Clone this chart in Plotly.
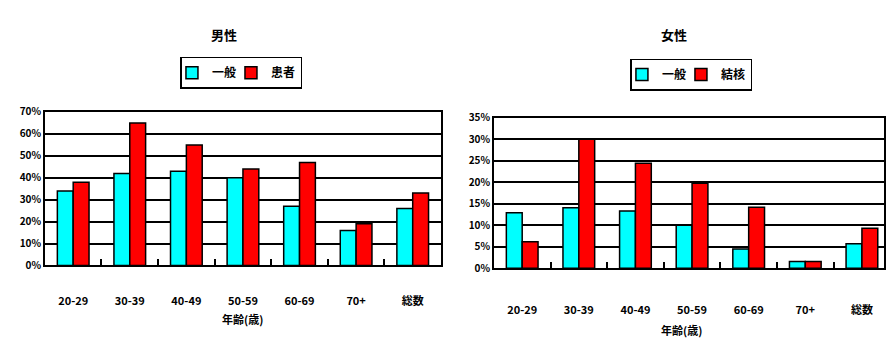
import plotly.graph_objects as go

categories = ["20-29", "30-39", "40-49", "50-59", "60-69", "70+", "総数"]
male_general = [34, 42, 43, 40, 27, 16, 26]
male_patient = [38, 65, 55, 44, 47, 19, 33]
female_general = [12.9, 14.1, 13.3, 10.0, 4.5, 1.6, 5.7]
female_tb = [6.2, 30.0, 24.4, 19.8, 14.2, 1.6, 9.3]

W, H = 886, 344
CYAN = "#00FFFF"
RED = "#FF0000"
FONT = "Noto Sans CJK JP"

fig = go.Figure()
bar_line = dict(color="black", width=1.5)
fig.add_trace(go.Bar(x=categories, y=male_general, name="一般", marker=dict(color=CYAN, line=bar_line),
                     xaxis="x", yaxis="y", legend="legend"))
fig.add_trace(go.Bar(x=categories, y=male_patient, name="患者", marker=dict(color=RED, line=bar_line),
                     xaxis="x", yaxis="y", legend="legend"))
fig.add_trace(go.Bar(x=categories, y=female_general, name="一般", marker=dict(color=CYAN, line=bar_line),
                     xaxis="x2", yaxis="y2", legend="legend2"))
fig.add_trace(go.Bar(x=categories, y=female_tb, name="結核", marker=dict(color=RED, line=bar_line),
                     xaxis="x2", yaxis="y2", legend="legend2"))

def xax(domain, anchor, rng, standoff):
    return dict(domain=domain, anchor=anchor, type="category", range=rng,
                showline=True, linecolor="black", linewidth=1.5, mirror=True,
                ticks="inside", tickson="boundaries", ticklen=7, tickwidth=1.5, tickcolor="black",
                ticklabelstandoff=standoff, showgrid=False,
                tickfont=dict(family=FONT, size=11, color="black", weight="bold"))

def yax(domain, anchor, rng, dtick):
    return dict(domain=domain, anchor=anchor, range=rng, dtick=dtick, ticksuffix="%",
                showline=True, linecolor="black", linewidth=1.5, mirror=True,
                showgrid=True, gridcolor="black", gridwidth=1.5, zeroline=False,
                ticks="", tickfont=dict(family=FONT, size=10, color="black", weight="bold"))

def leg(xc, ytop):
    return dict(orientation="h", x=xc / W, y=1 - ytop / H, xanchor="center", yanchor="top",
                bordercolor="black", borderwidth=1.5, bgcolor="white",
                font=dict(family=FONT, size=12, color="black", weight="bold"),
                itemwidth=30, tracegroupgap=0, indentation=-10)

def txt(s, xc, yc, size):
    return dict(text=s, x=xc / W, y=1 - yc / H, xref="paper", yref="paper", showarrow=False,
                xanchor="center", yanchor="middle",
                font=dict(family=FONT, size=size, color="black", weight="bold"))

fig.update_layout(
    width=W, height=H, margin=dict(l=0, r=0, t=0, b=0),
    paper_bgcolor="white", plot_bgcolor="white",
    barmode="group", bargap=0.44, bargroupgap=0,
    font=dict(family=FONT, color="black", weight="bold"),
    xaxis=xax([45 / W, 442 / W], "y", [-0.5, 6.5], 25),
    yaxis=yax([(H - 269) / H, (H - 108) / H], "x", [0, 70], 10),
    xaxis2=xax([495 / W, 1.0], "y2", [-0.5, 6.39], 31),
    yaxis2=yax([(H - 272) / H, (H - 114) / H], "x2", [0, 35], 5),
    legend=leg(242, 50),
    legend2=leg(693, 52),
    annotations=[
        txt("男性", 225, 27, 13),
        txt("女性", 676, 27, 13),
        txt("年齢(歳)", 243, 325, 11),
        txt("年齢(歳)", 683, 337, 11),
    ],
)

fig.write_html("out.html")
